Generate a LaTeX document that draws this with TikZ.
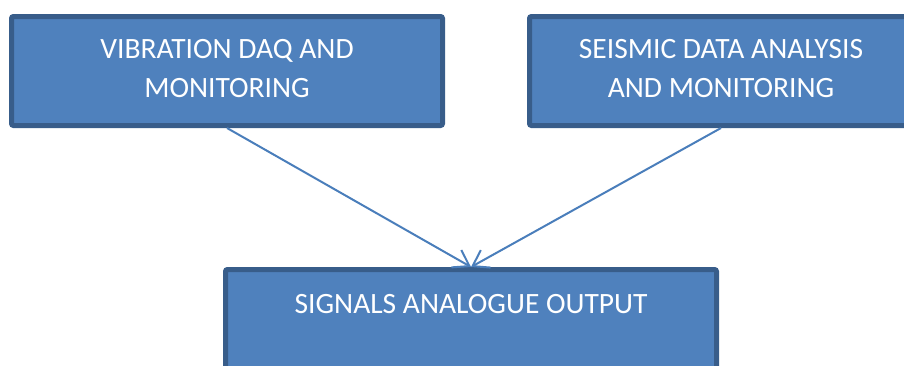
\documentclass[tikz,border=0pt]{standalone}
\usepackage{fontspec}
\setmainfont{Carlito}
\usetikzlibrary{arrows.meta}
\definecolor{boxfill}{HTML}{4F81BD}
\definecolor{boxline}{HTML}{385D8A}
\definecolor{arrline}{HTML}{4A7EBB}
\begin{document}
\begin{tikzpicture}[x=1pt, y=-1pt,
  blk/.style={rectangle, draw=boxline, fill=boxfill, line width=5pt, rounded corners=2pt, inner sep=0pt, anchor=north, align=center, text=white, font=\fontsize{29.5}{39}\selectfont},
  arr/.style={-{Straight Barb[length=15pt, width=20pt]}, draw=arrline, line width=2pt}]
  \clip (0,0) rectangle (904,365);

  \node[blk, minimum width=431pt, text height=80.5pt, text depth=28.5pt] (vib) at (227,14) {VIBRATION DAQ AND\\MONITORING};

  \node[blk, minimum width=383pt, text height=80.5pt, text depth=28.5pt] (seis) at (721,14) {SEISMIC DATA ANALYSIS\\AND MONITORING};

  \node[blk, minimum width=491pt, text height=43.5pt, text depth=90pt] (sig) at (471,267) {SIGNALS ANALOGUE OUTPUT};

  \draw[arr] (vib.south) -- (sig.north);
  \draw[arr] (seis.south) -- (sig.north);
\end{tikzpicture}
\end{document}
